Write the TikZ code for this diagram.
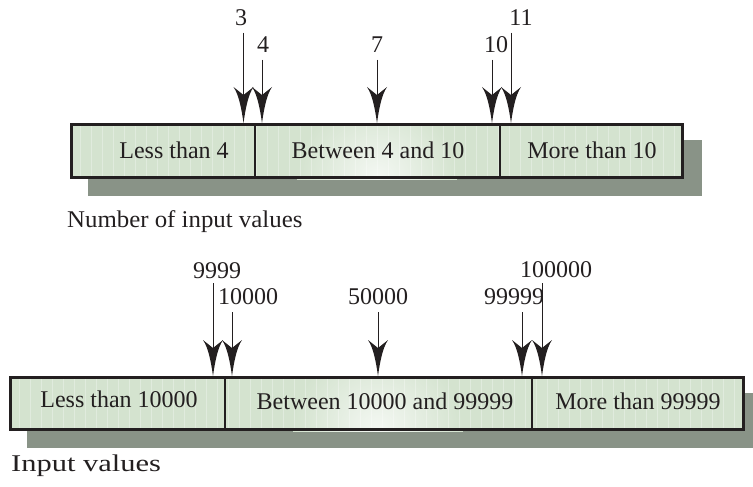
\documentclass[tikz,border=0pt]{standalone}
\usepackage{fontspec}
\usepackage{graphicx}
\setmainfont{Liberation Serif}
\usetikzlibrary{arrows.meta}
\definecolor{boxfill}{RGB}{212,227,207}
\definecolor{shadowc}{RGB}{137,147,135}
\definecolor{inkc}{RGB}{35,31,32}
\pgfdeclarearrow{
  name = Dart,
  setup code = {
    \pgfarrowssettipend{0pt}
    \pgfarrowssetlineend{-20pt}
    \pgfarrowssetvisualbackend{-28pt}
    \pgfarrowssetbackend{-36pt}
    \pgfarrowshullpoint{0pt}{0pt}
    \pgfarrowshullpoint{-36pt}{10pt}
    \pgfarrowshullpoint{-36pt}{-10pt}
  },
  drawing code = {
    \pgfpathmoveto{\pgfpoint{0pt}{0pt}}
    \pgfpathcurveto{\pgfpoint{-14pt}{2pt}}{\pgfpoint{-28pt}{4.5pt}}{\pgfpoint{-36pt}{10pt}}
    \pgfpathlineto{\pgfpoint{-28pt}{0pt}}
    \pgfpathlineto{\pgfpoint{-36pt}{-10pt}}
    \pgfpathcurveto{\pgfpoint{-28pt}{-4.5pt}}{\pgfpoint{-14pt}{-2pt}}{\pgfpoint{0pt}{0pt}}
    \pgfpathclose
    \pgfusepathqfill
  }
}
\tikzset{
  lbl/.style={inner sep=0pt, anchor=base, text=inkc, font=\fontsize{24}{28}\selectfont},
  arr/.style={-{Dart}, line width=0.9pt, draw=inkc, fill=inkc},
  frame/.style={draw=inkc, line width=2.7pt},
  divider/.style={draw=inkc, line width=1.2pt},
  shadowbox/.style={fill=shadowc},
  stripe/.style={draw=white, opacity=0.3, line width=0.6pt}
}
\begin{document}
\begin{tikzpicture}[x=1pt,y=-1pt]
\useasboundingbox (0,0) rectangle (753,487);
% ================= top diagram =================
\fill[shadowbox] (88,140) rectangle (702,196);
\fill[boxfill] (70,123) rectangle (684,179);
\begin{scope}
  \clip (255,123) rectangle (500,179);
  \shade[inner color=boxfill!25!white, outer color=boxfill] (377,178) circle (80);
\end{scope}
\foreach \x in {80,91,...,680} {\draw[stripe] (\x,125) -- (\x,177);}
\draw[frame] (71.35,124.35) rectangle (682.65,177.65);
\coordinate (d1t) at (255,123); \coordinate (d1b) at (255,179);
\coordinate (d2t) at (500,123); \coordinate (d2b) at (500,179);
\draw[divider] (d1t) -- (d1b);
\draw[divider] (d2t) -- (d2b);
\node[lbl] (c1) at (174,158) {Less than 4};
\node[lbl] (c2) at (378,158) {Between 4 and 10};
\node[lbl] (c3) at (592,158) {More than 10};
% labels
\node[lbl] (l3) at (241,26) {3};
\node[lbl] (l4) at (263,53) {4};
\node[lbl] (l7) at (377,53) {7};
\node[lbl] (l10) at (496,53) {10};
\node[lbl] (l11) at (521,26) {11};
% arrows
\coordinate (s3) at (243.5,33);  \coordinate (e3) at (243.5,123);
\coordinate (s4) at (262,60);    \coordinate (e4) at (262,123);
\coordinate (s7) at (377,60);    \coordinate (e7) at (377,123);
\coordinate (s10) at (492,60);   \coordinate (e10) at (492,123);
\coordinate (s11) at (511,33);   \coordinate (e11) at (511,123);
\foreach \n in {3,4,7,10,11} {\draw[arr] (s\n) -- (e\n);}
\node[lbl, anchor=base west] (cap1) at (67,227) {\scalebox{1.035}[1]{Number of input values}};
% ================= bottom diagram =================
\fill[shadowbox] (27,393) rectangle (753,448);
\fill[boxfill] (9,376) rectangle (745,431);
\begin{scope}
  \clip (225,376) rectangle (532,431);
  \shade[inner color=boxfill!25!white, outer color=boxfill] (378,430) circle (85);
\end{scope}
\foreach \x in {19,30,...,740} {\draw[stripe] (\x,378) -- (\x,429);}
\draw[frame] (10.35,377.35) rectangle (743.65,429.65);
\coordinate (b1t) at (225,376); \coordinate (b1b) at (225,431);
\coordinate (b2t) at (532,376); \coordinate (b2b) at (532,431);
\draw[divider] (b1t) -- (b1b);
\draw[divider] (b2t) -- (b2b);
\node[lbl] (k1) at (119,407) {Less than 10000};
\node[lbl] (k2) at (385,409) {Between 10000 and 99999};
\node[lbl] (k3) at (638,409) {More than 99999};
% labels
\node[lbl] (m9999) at (217,278) {9999};
\node[lbl] (m10000) at (248,304) {10000};
\node[lbl] (m50000) at (378,304) {50000};
\node[lbl] (m99999) at (514,304) {99999};
\node[lbl] (m100000) at (556,277) {100000};
% arrows
\coordinate (t1) at (213,283);  \coordinate (u1) at (213,376);
\coordinate (t2) at (232,312);  \coordinate (u2) at (232,376);
\coordinate (t3) at (378,312);  \coordinate (u3) at (378,376);
\coordinate (t4) at (522,312);  \coordinate (u4) at (522,376);
\coordinate (t5) at (542,283);  \coordinate (u5) at (542,376);
\foreach \n in {1,...,5} {\draw[arr] (t\n) -- (u\n);}
\node[lbl, anchor=base west] (cap2) at (11,471) {\scalebox{1.27}[1]{Input values}};
\end{tikzpicture}
\end{document}
